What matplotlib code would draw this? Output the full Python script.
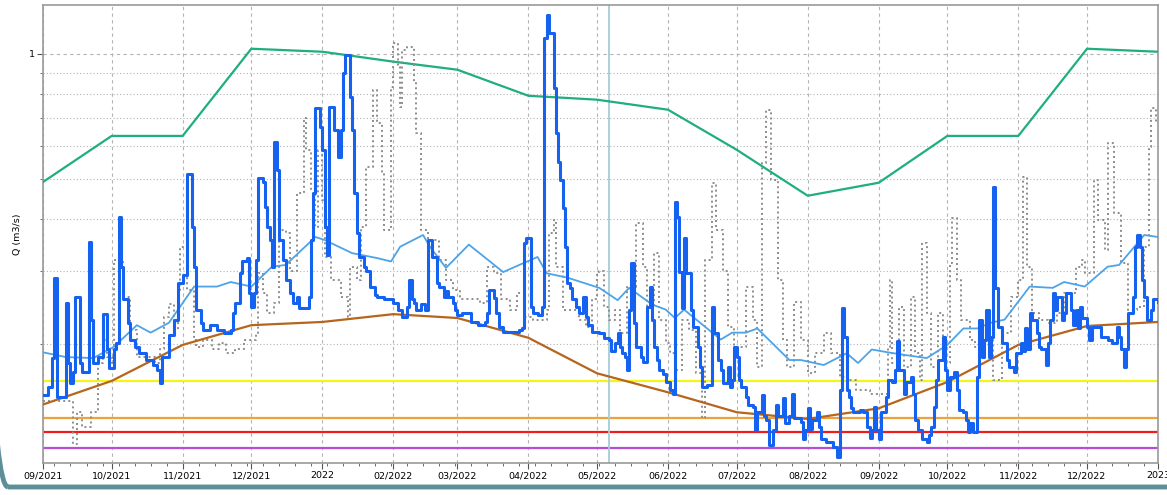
import matplotlib
matplotlib.use("Agg")
import matplotlib.pyplot as plt
import matplotlib.dates as mdates
import matplotlib.ticker as mticker
from matplotlib.patches import FancyBboxPatch
from matplotlib.transforms import IdentityTransform
import numpy as np
import pandas as pd

START = pd.Timestamp("2021-09-01")
END = pd.Timestamp("2023-01-01")

# observed discharge (days since 2021-09-01, m3/s) - stepped
blue_day = [0, 2, 4, 5, 6, 10, 11, 12, 13, 14, 16, 17, 20, 21, 22, 24, 26, 28, 29, 31, 32, 33, 34, 35, 37, 38, 40, 42, 45, 48,
            50, 51, 52, 55, 57, 59, 61, 63, 65, 66, 67, 69, 70, 73, 76, 79, 82, 83, 84, 86, 87, 89, 90, 91, 92, 93, 94, 96, 97, 98,
            99, 100, 101, 102, 103, 105, 106, 108, 109, 111, 112, 116, 117, 118, 119, 121, 122, 123, 124, 125, 127, 129, 130, 131, 132, 134, 135, 136, 137, 138,
            140, 141, 143, 145, 146, 149, 153, 155, 157, 159, 160, 161, 162, 163, 165, 167, 168, 170, 172, 173, 175, 176, 177, 179, 180, 181, 183, 187, 190, 193,
            194, 195, 197, 198, 199, 201, 208, 209, 210, 211, 213, 214, 216, 218, 219, 220, 221, 223, 224, 225, 226, 227, 228, 229, 230, 231, 233, 234, 236, 237,
            238, 240, 243, 245, 247, 248, 250, 251, 252, 253, 254, 255, 256, 257, 258, 259, 261, 262, 264, 265, 266, 267, 268, 269, 271, 272, 274, 275, 276, 277,
            278, 279, 280, 281, 283, 284, 286, 287, 288, 290, 292, 293, 295, 296, 297, 299, 300, 301, 302, 303, 304, 305, 307, 308, 310, 311, 312, 314, 315, 316,
            317, 319, 320, 321, 323, 324, 326, 327, 328, 331, 332, 333, 334, 335, 336, 338, 339, 340, 342, 345, 347, 348, 349, 350, 351, 352, 353, 354, 357, 358,
            360, 361, 362, 363, 364, 365, 366, 368, 369, 371, 372, 373, 374, 376, 377, 379, 380, 381, 382, 384, 386, 387, 388, 389, 390, 391, 393, 394, 395, 396,
            398, 399, 400, 402, 403, 404, 405, 406, 408, 409, 410, 411, 412, 413, 414, 415, 416, 417, 419, 421, 422, 424, 425, 427, 428, 429, 430, 431, 432, 434,
            435, 436, 438, 439, 440, 441, 442, 443, 445, 446, 447, 449, 450, 451, 452, 453, 454, 456, 457, 458, 462, 465, 467, 469, 470, 471, 472, 473, 474, 476,
            477, 478, 479, 480, 481, 482, 484, 485, 487]
blue_q = [0.151, 0.158, 0.185, 0.289, 0.149, 0.251, 0.180, 0.161, 0.171, 0.260, 0.180, 0.171, 0.352, 0.229, 0.180, 0.186, 0.236, 0.194, 0.175, 0.194,
          0.201, 0.405, 0.307, 0.256, 0.225, 0.205, 0.197, 0.190, 0.183, 0.178, 0.173, 0.161, 0.186, 0.210, 0.229, 0.281, 0.293, 0.514, 0.383, 0.307,
          0.242, 0.225, 0.216, 0.222, 0.216, 0.213, 0.216, 0.238, 0.251, 0.296, 0.316, 0.322, 0.266, 0.246, 0.266, 0.319, 0.503, 0.490, 0.428, 0.383,
          0.356, 0.307, 0.614, 0.525, 0.356, 0.319, 0.285, 0.266, 0.251, 0.260, 0.244, 0.260, 0.356, 0.463, 0.741, 0.667, 0.587, 0.383, 0.328, 0.745,
          0.656, 0.565, 0.656, 0.900, 0.995, 0.788, 0.656, 0.463, 0.370, 0.324, 0.307, 0.300, 0.275, 0.262, 0.260, 0.256, 0.251, 0.242, 0.232, 0.246,
          0.285, 0.256, 0.251, 0.242, 0.250, 0.242, 0.356, 0.324, 0.281, 0.275, 0.260, 0.268, 0.260, 0.251, 0.242, 0.235, 0.238, 0.226, 0.222, 0.226,
          0.238, 0.270, 0.258, 0.238, 0.220, 0.214, 0.216, 0.218, 0.350, 0.360, 0.246, 0.238, 0.235, 0.246, 1.090, 1.240, 1.120, 0.828, 0.645, 0.549,
          0.497, 0.425, 0.343, 0.281, 0.273, 0.256, 0.246, 0.238, 0.260, 0.232, 0.222, 0.214, 0.213, 0.207, 0.205, 0.192, 0.201, 0.213, 0.197, 0.190,
          0.186, 0.173, 0.242, 0.314, 0.225, 0.197, 0.186, 0.181, 0.246, 0.275, 0.229, 0.197, 0.183, 0.173, 0.169, 0.162, 0.155, 0.152, 0.440, 0.405,
          0.298, 0.244, 0.360, 0.296, 0.242, 0.220, 0.197, 0.176, 0.158, 0.159, 0.246, 0.213, 0.183, 0.173, 0.161, 0.176, 0.158, 0.164, 0.197, 0.186,
          0.164, 0.158, 0.149, 0.143, 0.141, 0.124, 0.137, 0.151, 0.134, 0.131, 0.114, 0.124, 0.143, 0.134, 0.148, 0.129, 0.134, 0.152, 0.133, 0.130,
          0.118, 0.124, 0.140, 0.125, 0.131, 0.137, 0.126, 0.118, 0.116, 0.113, 0.107, 0.155, 0.244, 0.208, 0.155, 0.149, 0.140, 0.137, 0.139, 0.137,
          0.126, 0.119, 0.124, 0.141, 0.124, 0.118, 0.137, 0.149, 0.164, 0.162, 0.173, 0.203, 0.173, 0.152, 0.162, 0.167, 0.152, 0.131, 0.124, 0.118,
          0.116, 0.121, 0.126, 0.141, 0.164, 0.183, 0.208, 0.173, 0.155, 0.167, 0.171, 0.155, 0.139, 0.137, 0.131, 0.123, 0.129, 0.123, 0.167, 0.229,
          0.186, 0.205, 0.242, 0.186, 0.208, 0.478, 0.273, 0.220, 0.201, 0.183, 0.176, 0.171, 0.190, 0.201, 0.192, 0.218, 0.194, 0.238, 0.229, 0.213,
          0.197, 0.194, 0.178, 0.201, 0.229, 0.266, 0.242, 0.260, 0.229, 0.238, 0.266, 0.242, 0.222, 0.242, 0.218, 0.246, 0.231, 0.220, 0.205, 0.220,
          0.208, 0.205, 0.201, 0.220, 0.208, 0.194, 0.176, 0.194, 0.238, 0.260, 0.343, 0.366, 0.343, 0.285, 0.260, 0.229, 0.242, 0.256, 0.253]

# simulated / reference discharge (gray dotted, stepped)
gray_day = [0, 13, 15, 17, 21, 24, 26, 28, 30, 31, 35, 38, 41, 49, 51, 53, 55, 57, 59, 60, 63, 66, 67, 70, 74, 77, 80, 84, 88, 93,
            94, 96, 98, 101, 103, 106, 108, 111, 114, 115, 117, 119, 120, 122, 123, 126, 130, 133, 134, 137, 139, 141, 144, 146, 148, 149, 152, 153, 155, 156,
            157, 159, 162, 163, 165, 168, 170, 173, 176, 179, 182, 191, 194, 197, 200, 204, 207, 210, 214, 220, 221, 223, 224, 227, 234, 237, 240, 242, 243, 245,
            247, 250, 252, 255, 259, 262, 264, 267, 269, 272, 274, 276, 279, 282, 285, 288, 289, 292, 294, 297, 299, 302, 305, 307, 310, 312, 314, 316, 318, 321,
            323, 325, 328, 331, 334, 337, 341, 344, 348, 351, 355, 361, 366, 369, 370, 371, 374, 376, 379, 381, 383, 384, 386, 388, 391, 393, 396, 397, 399, 401,
            405, 407, 411, 415, 419, 423, 426, 428, 430, 432, 435, 439, 443, 446, 451, 454, 455, 459, 461, 464, 465, 468, 471, 474, 478, 481, 483, 484, 486]
gray_q = [0.146, 0.115, 0.137, 0.126, 0.137, 0.180, 0.205, 0.186, 0.180, 0.319, 0.260, 0.216, 0.186, 0.180, 0.194, 0.232, 0.249, 0.216, 0.270, 0.343,
          0.270, 0.208, 0.197, 0.205, 0.194, 0.201, 0.190, 0.194, 0.205, 0.213, 0.296, 0.266, 0.238, 0.251, 0.376, 0.370, 0.300, 0.463, 0.701, 0.587,
          0.470, 0.383, 0.587, 0.445, 0.324, 0.285, 0.260, 0.232, 0.307, 0.285, 0.383, 0.534, 0.819, 0.682, 0.517, 0.376, 0.833, 1.060, 0.930, 0.745,
          1.020, 1.040, 0.851, 0.645, 0.376, 0.331, 0.356, 0.319, 0.285, 0.270, 0.256, 0.251, 0.307, 0.296, 0.256, 0.242, 0.266, 0.232, 0.229, 0.242,
          0.370, 0.398, 0.307, 0.242, 0.229, 0.220, 0.256, 0.296, 0.300, 0.246, 0.229, 0.242, 0.213, 0.275, 0.391, 0.307, 0.246, 0.331, 0.229, 0.201,
          0.190, 0.173, 0.229, 0.216, 0.170, 0.133, 0.319, 0.489, 0.376, 0.300, 0.220, 0.197, 0.197, 0.275, 0.229, 0.176, 0.546, 0.733, 0.497, 0.285,
          0.205, 0.176, 0.253, 0.205, 0.170, 0.190, 0.213, 0.190, 0.167, 0.164, 0.155, 0.152, 0.152, 0.197, 0.285, 0.180, 0.246, 0.176, 0.260, 0.190,
          0.164, 0.350, 0.238, 0.176, 0.238, 0.180, 0.314, 0.402, 0.285, 0.229, 0.205, 0.197, 0.205, 0.164, 0.213, 0.260, 0.285, 0.506, 0.307, 0.238,
          0.229, 0.225, 0.238, 0.266, 0.307, 0.319, 0.296, 0.497, 0.398, 0.337, 0.610, 0.414, 0.314, 0.242, 0.246, 0.343, 0.597, 0.741, 0.682]

# moving average (light blue)
avg_day = [0, 10, 22, 31, 41, 47, 55, 66, 76, 82, 91, 100, 106, 119, 123, 135, 146, 152, 156, 166, 169, 176, 186, 201, 208, 216, 220, 229, 243, 251,
           256, 266, 272, 276, 280, 296, 301, 307, 312, 326, 331, 341, 351, 356, 362, 369, 377, 386, 395, 402, 408, 414, 420, 431, 441, 446, 455, 465, 470, 481, 487]
avg_q = [0.191, 0.186, 0.185, 0.197, 0.222, 0.213, 0.225, 0.275, 0.275, 0.282, 0.275, 0.307, 0.310, 0.362, 0.356, 0.331, 0.322, 0.316, 0.343, 0.366,
         0.343, 0.305, 0.347, 0.298, 0.310, 0.324, 0.296, 0.289, 0.273, 0.255, 0.273, 0.249, 0.242, 0.231, 0.242, 0.205, 0.213, 0.213, 0.218, 0.183,
         0.183, 0.178, 0.190, 0.180, 0.194, 0.191, 0.188, 0.185, 0.199, 0.218, 0.218, 0.225, 0.229, 0.275, 0.273, 0.282, 0.275, 0.307, 0.310, 0.366, 0.362]

# monthly statistics (first of each month)
month_day = [0, 30, 61, 91, 122, 153, 181, 212, 242, 273, 303, 334, 365, 395, 426, 456, 487]
brown_q = [0.143, 0.163, 0.199, 0.222, 0.226, 0.236, 0.231, 0.207, 0.170, 0.153, 0.137, 0.132, 0.140, 0.162, 0.199, 0.221, 0.226]
green_q = [0.491, 0.634, 0.634, 1.028, 1.011, 0.957, 0.915, 0.792, 0.775, 0.733, 0.587, 0.455, 0.489, 0.634, 0.634, 1.028, 1.011]

# threshold levels
thresholds = [0.163, 0.133, 0.1228, 0.1125]
threshold_colors = ["#f4f41a", "#eea33a", "#ee1c1c", "#b44fd6"]

today = pd.Timestamp("2022-05-06")


def to_dates(days):
    return START + pd.to_timedelta(np.array(days), unit="D")


W, H = 1167, 495
fig = plt.figure(figsize=(W / 100, H / 100), dpi=100)
ax = fig.add_axes([43 / W, 1 - 463 / H, (1158 - 43) / W, (463 - 5) / H])

for lvl, col in zip(thresholds, threshold_colors):
    ax.axhline(lvl, color=col, lw=1.6, zorder=2)

ax.axvline(today, color="#a6cdd6", lw=1.3, zorder=2)

ax.plot(to_dates(month_day), green_q, color="#1fae80", lw=1.6, zorder=3)
ax.plot(to_dates(gray_day), gray_q, color="#8c8c8c", lw=1.4, ls=(0, (1, 1.6)), drawstyle="steps-post", zorder=3)
ax.plot(to_dates(month_day), brown_q, color="#b5651d", lw=1.6, zorder=4)
ax.plot(to_dates(avg_day), avg_q, color="#4da3e8", lw=1.3, zorder=4)
ax.plot(to_dates(blue_day), blue_q, color="#1662f0", lw=2.2, drawstyle="steps-post", zorder=5)

ax.set_yscale("log")
ax.set_ylim(0.1034, 1.31)
ax.set_xlim(START, END)

ax.yaxis.set_major_locator(mticker.LogLocator(base=10))
ax.yaxis.set_major_formatter(mticker.FuncFormatter(lambda v, p: "%g" % v))
ax.yaxis.set_minor_locator(mticker.LogLocator(base=10, subs=np.arange(2, 10)))
ax.yaxis.set_minor_formatter(mticker.NullFormatter())

ax.xaxis.set_major_locator(mdates.MonthLocator())
ax.xaxis.set_minor_locator(mdates.WeekdayLocator(byweekday=mdates.MO))


def fmt_date(x, pos):
    d = mdates.num2date(x)
    return d.strftime("%Y") if d.month == 1 else d.strftime("%m/%Y")


ax.xaxis.set_major_formatter(mticker.FuncFormatter(fmt_date))

ax.grid(which="major", axis="both", linestyle=(0, (3, 3)), color="#b4b4b4", lw=0.8)
ax.grid(which="minor", axis="y", linestyle=(0, (1, 2)), color="#b4b4b4", lw=0.8)

ax.tick_params(axis="both", which="major", labelsize=6.8, length=4, color="#555555", pad=2)
ax.tick_params(axis="both", which="minor", length=2, color="#555555")
ax.set_ylabel("Q (m3/s)", fontsize=6.8, labelpad=5)

for s in ax.spines.values():
    s.set_color("#9a9a9a")
    s.set_linewidth(1.2)

# outer rounded frame (partially visible)
frame = FancyBboxPatch((-16, 8), 1300, 700, boxstyle="round,pad=0,rounding_size=24",
                       transform=IdentityTransform(), fill=False, edgecolor="#5e8f98", lw=3.5, clip_on=False)
fig.add_artist(frame)

fig.savefig("out.png", dpi=100)
